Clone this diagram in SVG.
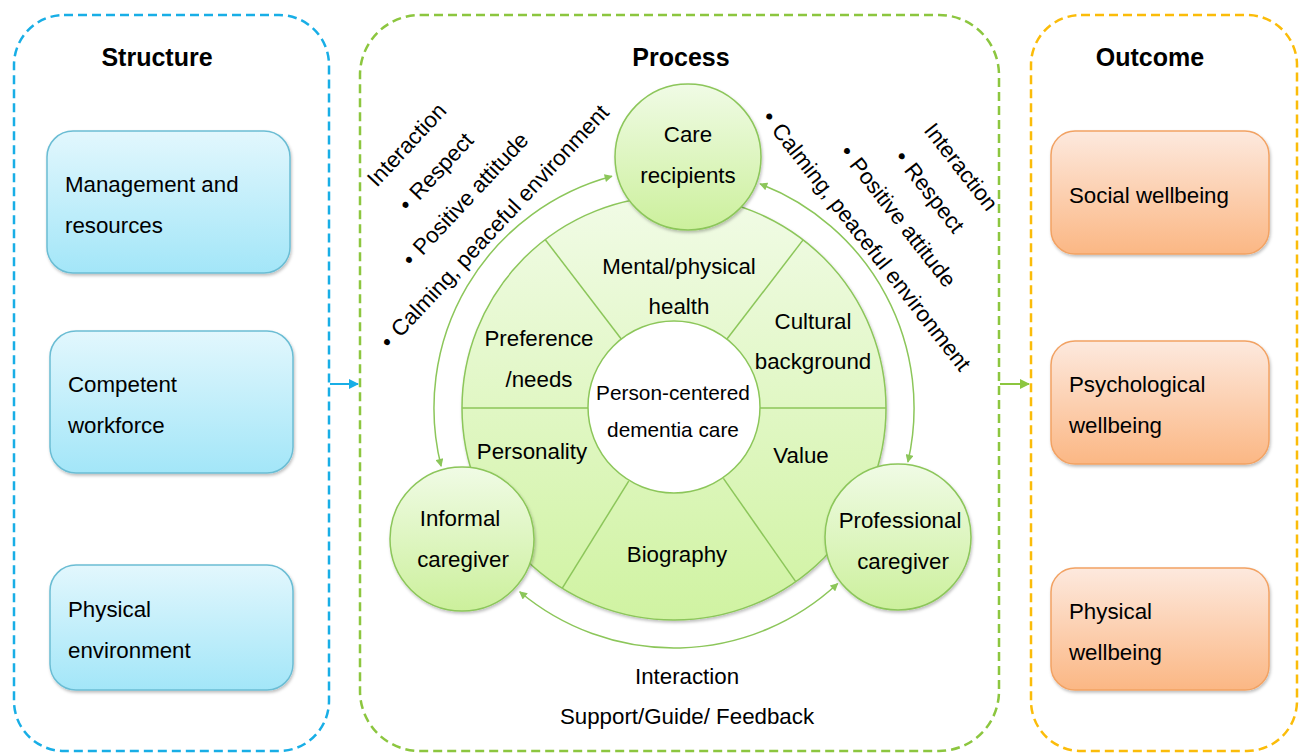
<svg xmlns="http://www.w3.org/2000/svg" width="1301" height="756" viewBox="0 0 1301 756">
<style>
text{font-family:"Liberation Sans",Arial,sans-serif;fill:#000;}
.title{font-size:25px;font-weight:bold;text-anchor:middle;}
.t{font-size:22.3px;}
.c{font-size:22.3px;text-anchor:middle;}
.cs{font-size:20.8px;text-anchor:middle;}
.cont{fill:none;stroke-width:2.5;stroke-dasharray:9 5;}
.bbox{fill:url(#gBlue);stroke:#6bbdd4;stroke-width:1.5;filter:url(#sh);}
.obox{fill:url(#gOrange);stroke:#f2a263;stroke-width:1.5;filter:url(#sh);}
.node{fill:url(#gCircle);stroke:#8cc65a;stroke-width:1.5;filter:url(#sh);}
.div{stroke:#8cc65a;stroke-width:1.5;}
.arc{fill:none;stroke:#8cc65a;stroke-width:1.5;marker-start:url(#ah);marker-end:url(#ah);}
</style>
<defs>
<linearGradient id="gBlue" x1="0" y1="0" x2="0" y2="1"><stop offset="0" stop-color="#e2f7fd"/><stop offset="1" stop-color="#a3e6f8"/></linearGradient>
<linearGradient id="gOrange" x1="0" y1="0" x2="0" y2="1"><stop offset="0" stop-color="#fde9de"/><stop offset="1" stop-color="#fbb784"/></linearGradient>
<linearGradient id="gWheel" x1="0" y1="0" x2="0" y2="1"><stop offset="0" stop-color="#f1fbe6"/><stop offset="1" stop-color="#d0f3a2"/></linearGradient>
<linearGradient id="gCircle" x1="0" y1="0" x2="0" y2="1"><stop offset="0" stop-color="#f0fbe5"/><stop offset="1" stop-color="#ccf09c"/></linearGradient>
<filter id="sh" x="-10%" y="-10%" width="125%" height="125%"><feDropShadow dx="1" dy="2" stdDeviation="1.5" flood-color="#000" flood-opacity="0.25"/></filter>
<marker id="ah" viewBox="0 0 10 10" refX="9" refY="5" markerWidth="9" markerHeight="8" markerUnits="userSpaceOnUse" orient="auto-start-reverse"><path d="M0,0 L10,5 L0,10 z" fill="#8cc65a"/></marker>
<marker id="ahB" viewBox="0 0 10 10" refX="9" refY="5" markerWidth="12" markerHeight="10" markerUnits="userSpaceOnUse" orient="auto"><path d="M0,0 L10,5 L0,10 z" fill="#18aee6"/></marker>
<marker id="ahG" viewBox="0 0 10 10" refX="9" refY="5" markerWidth="12" markerHeight="10" markerUnits="userSpaceOnUse" orient="auto"><path d="M0,0 L10,5 L0,10 z" fill="#8cc63f"/></marker>
</defs>
<rect width="1301" height="756" fill="#fff"/>

<g id="structure">
<rect class="cont" x="14" y="15" width="315" height="736" rx="50" stroke="#18aee6"/>
<text class="title" x="157" y="66">Structure</text>
</g>
<g id="process">
<rect class="cont" x="360" y="15" width="639" height="736" rx="60" stroke="#8cc63f"/>
<text class="title" x="681" y="66">Process</text>
</g>
<g id="outcome">
<rect class="cont" x="1031" y="15" width="266" height="736" rx="50" stroke="#fbbc09"/>
<text class="title" x="1150" y="66">Outcome</text>
</g>

<g id="s1"><rect class="bbox" x="47" y="131" width="243" height="142" rx="26"/><text class="t" x="65" y="192">Management and</text><text class="t" x="65" y="233">resources</text></g>
<g id="s2"><rect class="bbox" x="50" y="331" width="243" height="142" rx="26"/><text class="t" x="68" y="392">Competent</text><text class="t" x="68" y="433">workforce</text></g>
<g id="s3"><rect class="bbox" x="50" y="565" width="243" height="125" rx="26"/><text class="t" x="68" y="617">Physical</text><text class="t" x="68" y="658">environment</text></g>

<g id="o1"><rect class="obox" x="1051" y="131" width="218" height="123" rx="24"/><text class="t" x="1069" y="203">Social wellbeing</text></g>
<g id="o2"><rect class="obox" x="1051" y="341" width="218" height="123" rx="24"/><text class="t" x="1069" y="392">Psychological</text><text class="t" x="1069" y="433">wellbeing</text></g>
<g id="o3"><rect class="obox" x="1051" y="568" width="218" height="122" rx="24"/><text class="t" x="1069" y="619">Physical</text><text class="t" x="1069" y="660">wellbeing</text></g>

<g id="wheel">
<circle cx="674" cy="408" r="212" fill="url(#gWheel)" stroke="#8cc65a" stroke-width="1.5" filter="url(#sh)"/>
<line class="div" x1="462" y1="408" x2="588" y2="408"/>
<line class="div" x1="760" y1="408" x2="886" y2="408"/>
<line class="div" x1="621.8" y1="339.7" x2="545.3" y2="239.7"/>
<line class="div" x1="726.4" y1="339.8" x2="803.1" y2="239.9"/>
<line class="div" x1="723.4" y1="478.4" x2="795.7" y2="581.6"/>
<line class="div" x1="628.7" y1="481.1" x2="562.3" y2="588.2"/>
<text class="c" x="679" y="274">Mental/physical</text>
<text class="c" x="679" y="314">health</text>
<text class="c" x="813" y="329">Cultural</text>
<text class="c" x="813" y="369">background</text>
<text class="c" x="539" y="346">Preference</text>
<text class="c" x="539" y="387">/needs</text>
<text class="c" x="532" y="459">Personality</text>
<text class="c" x="801" y="463">Value</text>
<text class="c" x="677" y="562">Biography</text>
</g>
<g id="center">
<circle cx="674" cy="407" r="86" fill="#fff" stroke="#8cc65a" stroke-width="1.5"/>
<text class="cs" x="673" y="400">Person-centered</text>
<text class="cs" x="673" y="437">dementia care</text>
</g>

<g id="connectors">
<path class="arc" d="M611.9,176.2 A240,240 0 0 0 441.1,466.1"/>
<path class="arc" d="M760,183.9 A240,240 0 0 1 907.9,462"/>
<path class="arc" d="M519.7,591.8 A240,240 0 0 0 837.7,583.5"/>
<line x1="330" y1="384" x2="358" y2="384" stroke="#18aee6" stroke-width="2" marker-end="url(#ahB)"/>
<line x1="1000" y1="384" x2="1029" y2="384" stroke="#8cc63f" stroke-width="2" marker-end="url(#ahG)"/>
</g>

<g id="care-recipients">
<circle class="node" cx="688" cy="157" r="73"/>
<text class="c" x="688" y="142">Care</text>
<text class="c" x="688" y="183">recipients</text>
</g>
<g id="informal-caregiver">
<circle class="node" cx="462" cy="539" r="72"/>
<text class="c" x="460" y="526">Informal</text>
<text class="c" x="463" y="567">caregiver</text>
</g>
<g id="professional-caregiver">
<circle class="node" cx="898" cy="537" r="73"/>
<text class="c" x="900" y="528">Professional</text>
<text class="c" x="903" y="569">caregiver</text>
</g>

<g id="left-labels" transform="translate(451,186) rotate(-47)">
<text class="c" x="0" y="-53">Interaction</text>
<text class="c" x="0" y="-13">•<tspan dx="8">Respect</tspan></text>
<text class="c" x="0" y="27">•<tspan dx="8">Positive attitude</tspan></text>
<text class="c" x="0" y="67">•<tspan dx="8">Calming, peaceful environment</tspan></text>
</g>
<g id="right-labels" transform="translate(911,206) rotate(52)">
<text class="c" x="0" y="-56">Interaction</text>
<text class="c" x="0" y="-16">•<tspan dx="8">Respect</tspan></text>
<text class="c" x="0" y="24">•<tspan dx="8">Positive attitude</tspan></text>
<text class="c" x="0" y="64">•<tspan dx="8">Calming, peaceful environment</tspan></text>
</g>
<g id="bottom-labels">
<text class="c" x="687" y="684">Interaction</text>
<text class="c" x="687" y="724">Support/Guide/ Feedback</text>
</g>
</svg>
